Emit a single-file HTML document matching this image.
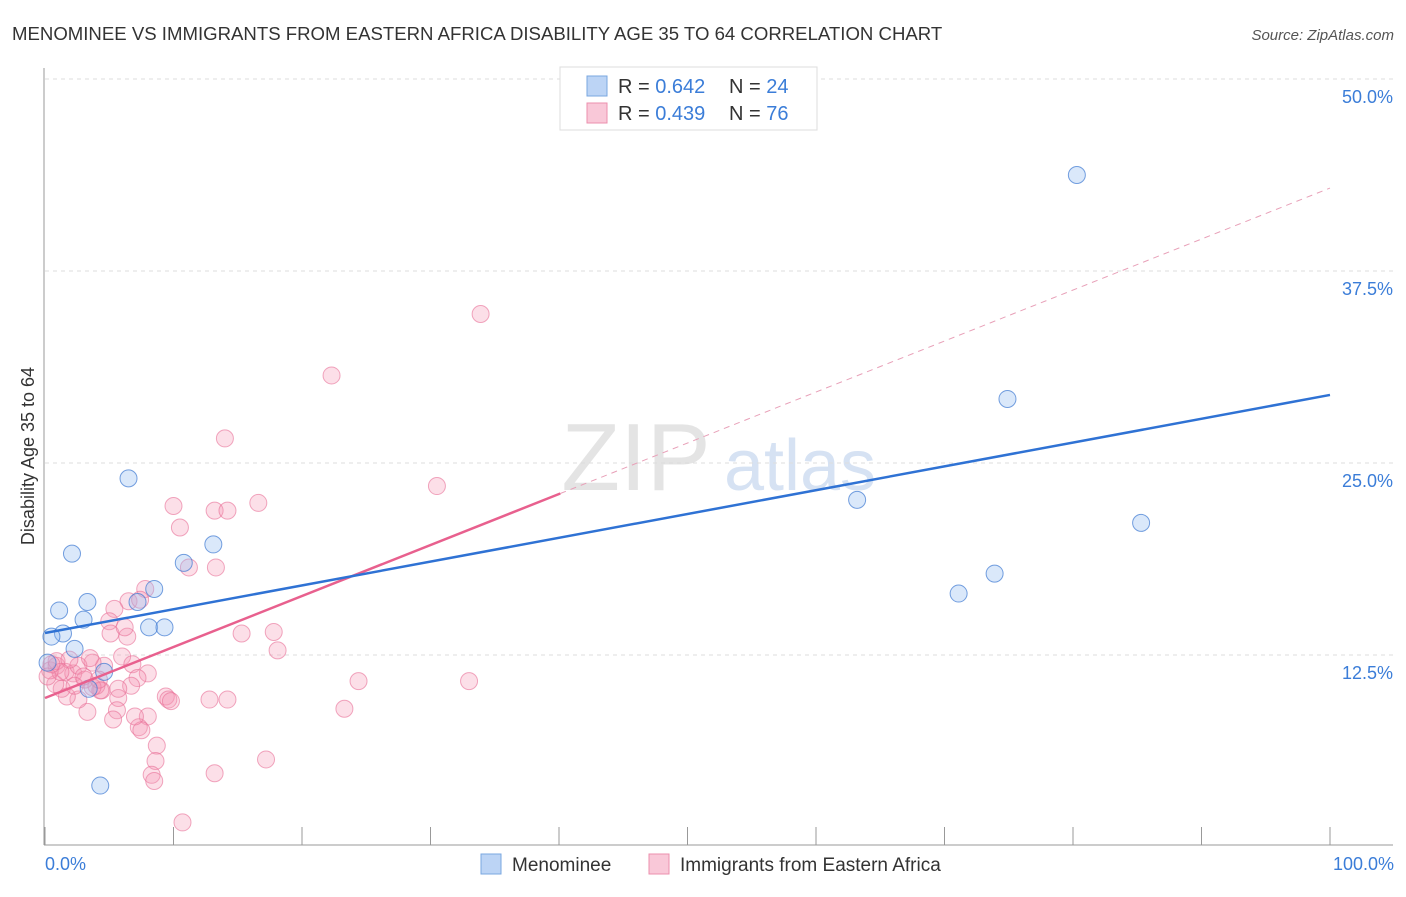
<!DOCTYPE html>
<html><head><meta charset="utf-8"><style>
body{margin:0;background:#fff;font-family:"Liberation Sans",sans-serif}
svg text{font-family:"Liberation Sans",sans-serif}
</style></head><body>
<svg id="chart" width="1406" height="892">
<text x="12" y="40" font-size="18.6" fill="#333">MENOMINEE VS IMMIGRANTS FROM EASTERN AFRICA DISABILITY AGE 35 TO 64 CORRELATION CHART</text>
<text x="1394" y="40" font-size="15" fill="#555" text-anchor="end" font-style="italic">Source: ZipAtlas.com</text>
<text x="636" y="490" font-size="96" fill="#e4e4e4" font-family="Liberation Serif" text-anchor="middle">ZIP</text>
<text x="800" y="490" font-size="72" fill="#d6e2f3" text-anchor="middle">atlas</text>
<g id="grid"></g><g id="axes"></g><g id="pts"></g><g id="lines"></g>
<text x="34" y="456" font-size="18" fill="#333" text-anchor="middle" transform="rotate(-90 34 456)">Disability Age 35 to 64</text>
<text x="45" y="870" font-size="18" fill="#3b7dd8">0.0%</text>
<text x="1394" y="870" font-size="18" fill="#3b7dd8" text-anchor="end">100.0%</text>
<g>
<rect x="560" y="67" width="257" height="63" fill="#fff" stroke="#ddd"/>
<rect x="587" y="76" width="20" height="20" fill="#bcd4f5" stroke="#7aa7e0"/>
<rect x="587" y="103" width="20" height="20" fill="#f9c8d8" stroke="#ec8fae"/>
<text x="618" y="93" font-size="20" fill="#333">R = <tspan fill="#3b7dd8">0.642</tspan></text>
<text x="729" y="93" font-size="20" fill="#333">N = <tspan fill="#3b7dd8">24</tspan></text>
<text x="618" y="120" font-size="20" fill="#333">R = <tspan fill="#3b7dd8">0.439</tspan></text>
<text x="729" y="120" font-size="20" fill="#333">N = <tspan fill="#3b7dd8">76</tspan></text>
</g>
<g>
<rect x="481" y="854" width="20" height="20" fill="#bcd4f5" stroke="#7aa7e0"/>
<text x="512" y="871" font-size="19" fill="#333">Menominee</text>
<rect x="649" y="854" width="20" height="20" fill="#f9c8d8" stroke="#ec8fae"/>
<text x="680" y="871" font-size="19" fill="#333">Immigrants from Eastern Africa</text>
</g>
</svg>
<script>
const yTicks=[12.5,25,37.5,50];
const yTickLabels=["12.5%","25.0%","37.5%","50.0%"];
const xTicks=[0,10,20,30,40,50,60,70,80,90,100];
const blueX=[80.3,74.9,63.2,85.3,73.9,71.1,6.5,2.1,13.1,10.8,8.5,3.3,1.1,7.2,3.0,1.4,8.1,9.3,0.5,2.3,4.6,3.4,0.2,4.3];
const blueY=[43.75,29.17,22.6,21.1,17.8,16.5,24.0,19.1,19.7,18.5,16.8,15.95,15.4,15.95,14.8,13.9,14.3,14.3,13.7,12.9,11.4,10.3,12.0,4.0];
const pinkX=[33.9,22.3,14.0,30.5,16.6,10.0,13.2,14.2,10.5,11.2,13.3,7.8,6.5,7.4,5.4,5.0,5.1,6.4,6.2,15.3,17.8,18.1,6.0,6.8,8.0,4.6,3.7,24.4,33.0,7.2,6.7,9.4,9.6,9.8,5.7,4.4,5.7,12.8,14.2,23.3,8.0,5.6,5.3,3.3,2.6,1.7,1.3,0.8,0.4,0.9,1.6,2.2,2.6,0.9,1.9,3.5,3.1,4.0,4.3,1.2,3.0,2.3,0.5,0.2,3.7,4.2,8.7,8.6,17.2,8.3,8.5,13.2,10.7,7.3,7.5,7.0];
const pinkY=[34.7,30.7,26.6,23.5,22.4,22.2,21.9,21.9,20.8,18.2,18.2,16.8,16.0,16.1,15.5,14.7,13.9,13.7,14.3,13.9,14.0,12.8,12.4,11.9,11.3,11.8,12.0,10.8,10.8,11.0,10.5,9.8,9.6,9.5,9.7,10.2,10.3,9.6,9.6,9.0,8.5,8.9,8.3,8.8,9.6,9.8,10.3,10.6,11.5,11.8,11.4,11.3,11.8,12.1,12.2,12.3,10.9,10.5,10.2,11.4,11.1,10.5,11.9,11.1,10.4,10.9,6.6,5.6,5.7,4.7,4.3,4.8,1.6,7.8,7.6,8.5];
const blueLine=[13.93,29.43];
const pinkLine=[9.70,42.9];
const pinkSolidEnd=40.1;
const NS="http://www.w3.org/2000/svg";
const X=v=>45+v*12.85, Y=v=>847-v*15.36;
function mk(t,a,p){const e=document.createElementNS(NS,t);for(const k in a)e.setAttribute(k,a[k]);p.appendChild(e);return e;}
const grid=document.getElementById('grid'),axes=document.getElementById('axes'),pts=document.getElementById('pts'),lines=document.getElementById('lines');
yTicks.forEach((v,i)=>{
 const l=mk('line',{x1:45,x2:1393,y1:Y(v),y2:Y(v),stroke:'#ddd','stroke-dasharray':'4,4'},grid);
 
 
 const t=mk('text',{x:1393,y:Y(v)+24,'font-size':18,fill:'#3b7dd8','text-anchor':'end'},grid);
 t.textContent=yTickLabels[i];
 
 
});
const ya=mk('line',{x1:44,x2:44,y1:68,y2:845,stroke:'#999'},axes);


const xa=mk('line',{x1:44,x2:1393,y1:845,y2:845,stroke:'#999'},axes);


xTicks.forEach(v=>{
 const t=mk('line',{x1:X(v),x2:X(v),y1:827,y2:845,stroke:'#999'},axes);
 
 
});
pinkX.forEach((x,i)=>{
 const c=mk('circle',{cx:X(x),cy:Y(pinkY[i]),r:8.5,fill:'rgba(244,150,180,0.3)',stroke:'rgba(232,110,150,0.6)','stroke-width':1},pts);
 
 
});
blueX.forEach((x,i)=>{
 const c=mk('circle',{cx:X(x),cy:Y(blueY[i]),r:8.5,fill:'rgba(150,190,240,0.35)',stroke:'rgba(60,120,210,0.7)','stroke-width':1},pts);
 
 
});
const pAt=x=>pinkLine[0]+(pinkLine[1]-pinkLine[0])*x/100;
const pd=mk('line',{x1:X(pinkSolidEnd),y1:Y(pAt(pinkSolidEnd)),x2:X(100),y2:Y(pinkLine[1]),stroke:'#e8a0b8','stroke-width':1,'stroke-dasharray':'6,5'},lines);


const ps=mk('line',{x1:X(0),y1:Y(pinkLine[0]),x2:X(pinkSolidEnd),y2:Y(pAt(pinkSolidEnd)),stroke:'#e8608e','stroke-width':2.5},lines);


const bl=mk('line',{x1:X(0),y1:Y(blueLine[0]),x2:X(100),y2:Y(blueLine[1]),stroke:'#2f72d4','stroke-width':2.5},lines);


</script>
</body></html>
